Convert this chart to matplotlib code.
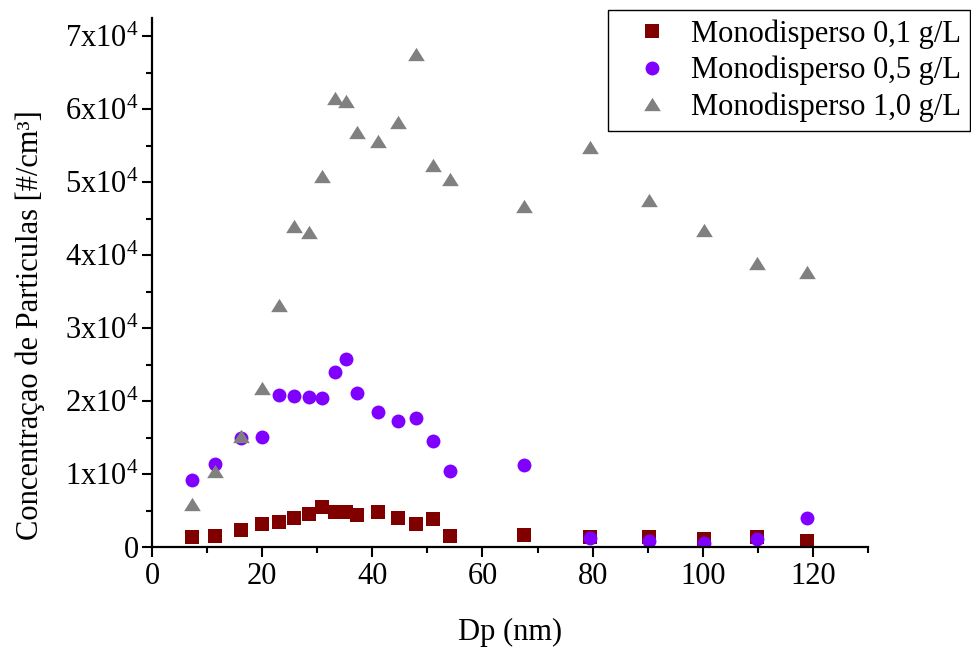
import matplotlib
matplotlib.use("Agg")
import matplotlib.pyplot as plt
from matplotlib.ticker import MultipleLocator, FuncFormatter

# ---- data ----
dp = [7.2, 11.4, 16.1, 19.9, 23.1, 25.8, 28.5, 30.9, 33.2, 35.3, 37.3,
      41.1, 44.6, 47.9, 51.1, 54.1, 67.6, 79.5, 90.3, 100.3, 109.8, 118.9]
conc_01 = [1370, 1550, 2280, 3150, 3470, 4010, 4470, 5520, 4840, 4790, 4420,
           4740, 4010, 3190, 3780, 1550, 1590, 1400, 1400, 1100, 1350, 860]
conc_05 = [9120, 11370, 14930, 15110, 20900, 20630, 20600, 20400, 24010, 25750, 21100,
           18530, 17210, 17620, 14520, 10450, 11270, 1180, 860, 500, 1100, 3970]
conc_10 = [5930, 10450, 15250, 21800, 33200, 43970, 43190, 50860, 61590, 61180, 56850,
           55700, 58300, 67530, 52330, 50500, 46750, 54880, 47580, 43470, 38900, 37750]
labels = ["Monodisperso 0,1 g/L", "Monodisperso 0,5 g/L", "Monodisperso 1,0 g/L"]
xlabel = "Dp (nm)"
ylabel = "Concentraçao de Particulas [#/cm³]"

plt.rcParams['font.family'] = ['Liberation Serif', 'DejaVu Serif']
plt.rcParams['mathtext.fontset'] = 'custom'
plt.rcParams['mathtext.rm'] = 'Liberation Serif'
plt.rcParams['mathtext.default'] = 'regular'

fs = 22
fig = plt.figure(figsize=(9.71, 6.53), dpi=100)
ax = fig.add_axes([152/971, 1-547/653, (868-152)/971, (547-18)/653])

tri = [(-1, -0.8), (1, -0.8), (0, 0.8), (-1, -0.8)]
ax.plot(dp, conc_01, linestyle='none', marker='s', ms=9.5, mew=0,
        color='#800000', label=labels[0])
ax.plot(dp, conc_05, linestyle='none', marker='o', ms=10, mew=0,
        color='#8000FF', label=labels[1])
ax.plot(dp, conc_10, linestyle='none', marker=tri, ms=12, mew=0,
        color='#808080', label=labels[2])

ax.set_xlim(0, 130)
ax.set_ylim(0, 72500)
ax.spines['top'].set_visible(False)
ax.spines['right'].set_visible(False)
for s in ('left', 'bottom'):
    ax.spines[s].set_linewidth(1.6)

ax.xaxis.set_major_locator(MultipleLocator(20))
ax.xaxis.set_minor_locator(MultipleLocator(10))
ax.yaxis.set_major_locator(MultipleLocator(10000))
ax.yaxis.set_minor_locator(MultipleLocator(5000))

def yfmt(v, pos):
    n = int(round(v / 10000))
    return "0" if n == 0 else f"{n}x10$^{{4}}$"
ax.yaxis.set_major_formatter(FuncFormatter(yfmt))

ax.tick_params(which='major', direction='out', length=7.5, width=1.5,
               labelsize=fs, pad=2)
ax.tick_params(which='minor', direction='out', length=4, width=1.5)
ax.tick_params(axis='x', which='major', pad=3)

ax.set_xlabel(xlabel, fontsize=fs)
ax.set_ylabel(ylabel, fontsize=fs)
ax.xaxis.set_label_coords(0.5, -0.135)
ax.yaxis.set_label_coords(-0.149, 0.42)

leg = ax.legend(loc='upper right', bbox_to_anchor=(970.3/971, 1-10/653),
                bbox_transform=fig.transFigure, fontsize=fs, frameon=True,
                fancybox=False, framealpha=1, edgecolor='black',
                borderpad=0.3, handlelength=2.23, handletextpad=0.18,
                labelspacing=0.23, borderaxespad=0)
leg.get_frame().set_linewidth(1.0)

fig.savefig("out.png", dpi=100)
